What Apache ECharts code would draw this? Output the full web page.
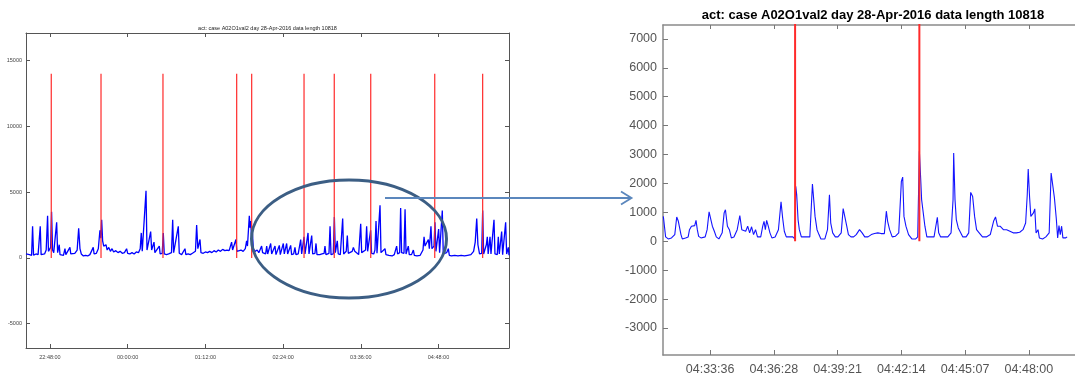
<!DOCTYPE html>
<html>
<head>
<meta charset="utf-8">
<script src="https://cdn.jsdelivr.net/npm/echarts@6/dist/echarts.min.js"></script>
<style>
  html, body { margin: 0; padding: 0; background: #fff; }
  #main { width: 1075px; height: 376px; }
</style>
</head>
<body>
<div id="main"></div>
<script>
// overview: minutes since 22:00 on the evening before, activity count
var overviewPoints = [
  [25.8,300],[27,150],[29,250],[31,200],[31.9,2400],[32.8,200],[35,300],[37,250],[38.2,300],[39,2400],[39.8,250],
  [41,400],[43,300],[44.5,600],[45.8,3200],[46.6,500],[47.5,400],[48.6,800],[49.5,3500],[50.4,600],[51.5,400],
  [53.2,500],[54.2,2700],[55.1,400],[56,300],[56.6,1000],[57.3,250],[59,300],[60.5,200],[61.9,700],[62.7,250],
  [64.5,300],[66.5,800],[67.3,300],[69,250],[71,350],[73.2,600],[74.6,2250],[75.8,700],[77,300],[79,150],[81,200],
  [83,150],[85,250],[86.5,300],[88.1,800],[88.9,300],[91,350],[92.8,700],[94.3,2100],[95.1,1500],[95.9,2900],
  [96.8,1300],[97.8,900],[99.9,1000],[101,600],[102.5,800],[104,500],[105.5,700],[107,450],[109,550],[111,400],
  [113,500],[115,350],[117,400],[119,700],[120,350],[122,300],[124,400],[126,300],[128,450],[130,400],[131.6,700],
  [132.6,1900],[133.5,500],[135,600],[137,5100],[137.9,600],[139.5,700],[141.3,2000],[142.2,600],[143.5,500],
  [144.4,1200],[145.2,400],[147,350],[149.3,900],[150.1,300],[152,350],[153,1900],[153.9,300],[156,250],[158,300],
  [160.6,400],[161.7,2900],[162.6,400],[164,300],[166.9,2400],[167.8,350],[170,250],[173.1,700],[173.9,250],
  [176,300],[178,250],[180,350],[182.8,500],[183.9,2500],[185,700],[187,1400],[187.9,400],[190,350],[192,450],
  [194,400],[196,500],[198,400],[200,550],[202,450],[204,600],[206,500],[208,650],[210,550],[212,600],[214,550],
  [216.3,1200],[217.2,600],[219,700],[220.3,1400],[221.2,500],[223,400],[225,600],[227,500],[229,700],[230.2,1300],
  [231,900],[232.7,3200],[233.3,2300],[234,2800],[234.8,1400],[235.5,2000],[236.4,700],[238,500],[240,600],
  [241.5,400],[243,500],[244.1,900],[245,400],[246.5,500],[247.8,300],[248.8,900],[249.7,300],[251,400],
  [252.5,1100],[253.4,300],[255,350],[256.5,900],[257.4,250],[259,300],[260.5,950],[261.4,250],[263,300],
  [264.2,1100],[265.1,300],[266.4,350],[267.3,1100],[268.2,300],[270,300],[271,950],[271.9,250],[273.8,300],
  [275,800],[275.9,250],[278,300],[280.3,1400],[281.2,300],[282.4,400],[283.4,1600],[284.3,300],[286,300],
  [287.1,1900],[288,300],[289.5,350],[290.5,1700],[291.4,300],[293.5,350],[294.5,1100],[295.4,250],[298,250],
  [300,300],[302,350],[302.8,900],[303.7,250],[306.5,350],[307.5,2400],[308.4,250],[310.5,300],[311.5,3100],
  [312.4,400],[313.3,350],[314.2,1300],[315.1,300],[317,250],[318.3,300],[319.2,3000],[320.1,300],[322.5,500],
  [323.5,1700],[324.4,350],[326,400],[328,500],[329.1,800],[330.4,500],[332,350],[334,250],[335,400],[335.9,2600],
  [336.8,400],[338,450],[340.4,600],[341.4,2400],[342.3,500],[344,400],[345.1,2100],[346,350],[348,300],
  [349.1,600],[350.1,2800],[351,350],[352.8,400],[353.8,4000],[354.7,400],[356.5,300],[358.4,700],[359.3,250],
  [362,200],[365,150],[367,250],[368.2,400],[369.2,900],[370.1,300],[372,400],[372.9,3800],[373.8,400],[376,350],
  [377,3700],[377.9,300],[379,250],[380,900],[380.9,250],[383,250],[384.7,600],[385.6,200],[388,150],[391,200],
  [393.6,600],[394.6,1600],[395.5,900],[397,800],[398.6,1400],[399.5,700],[401,2400],[401.9,700],[403.8,900],
  [404.7,2700],[405.6,500],[407.1,600],[408.1,2200],[409,400],[410.5,500],[411.5,3600],[412.4,300],[414,250],
  [415.5,400],[417.1,700],[418,200],[420,150],[423,200],[426,150],[429,200],[432,150],[435,200],[438,250],
  [440.5,500],[442,1200],[443.4,3000],[444.5,1000],[446,300],[448,350],[448.9,3600],[449.8,300],[451.5,300],
  [452.3,1000],[453.2,1600],[454,300],[454.9,400],[455.7,1600],[456.6,300],[458.4,250],[459.4,2900],[460.3,300],
  [462.4,250],[463.4,1600],[464.3,300],[465.6,300],[466.5,2000],[467.4,250],[469.2,300],[470.2,2700],[471.1,300],
  [472.7,800],[473.3,200]
];
var overviewEvents = [49.2, 95.3, 152.7, 221.0, 234.9, 283.4, 311.4, 345.2, 404.5, 448.9];
var overviewTicksX = [48, 120, 192, 264, 336, 408];
var overviewTicksY = [-5000, 0, 5000, 10000, 15000];

// zoom: seconds since 04:00:00
var zoomPoints = [
  [1889.3,860],[1891.9,800],[1895.5,150],[1902.6,80],[1911.4,115],[1920.3,230],[1925.6,840],[1930.0,690],
  [1933.6,650],[1937.1,230],[1940.7,80],[1949.5,115],[1956.6,150],[1960.2,400],[1965.5,520],[1970.8,460],
  [1974.3,540],[1977.9,720],[1981.4,400],[1985.0,170],[1991.2,115],[2002.7,150],[2008.0,400],[2013.3,1020],
  [2017.8,1070],[2022.2,520],[2027.5,345],[2032.8,150],[2039.9,80],[2048.8,290],[2054.1,980],[2057.6,1090],
  [2063.0,520],[2068.3,400],[2073.6,115],[2080.7,150],[2089.5,400],[2096.6,890],[2101.9,400],[2107.3,460],
  [2112.6,345],[2117.9,520],[2123.2,290],[2128.5,500],[2133.8,230],[2139.2,400],[2144.5,150],[2153.3,150],
  [2158.7,520],[2162.2,690],[2165.8,400],[2169.3,720],[2173.7,520],[2178.2,290],[2183.5,115],[2192.3,150],
  [2201.2,400],[2208.3,1360],[2212.7,800],[2217.2,345],[2222.5,150],[2231.3,150],[2240.2,150],[2245.5,80],
  [2248.2,1900],[2250.8,1610],[2254.4,750],[2257.9,400],[2263.3,150],[2272.1,150],[2279.2,150],[2286.3,150],
  [2293.4,1980],[2296.9,1440],[2300.5,860],[2305.8,400],[2311.1,230],[2316.4,80],[2327.1,80],[2334.2,400],
  [2339.5,1610],[2343.0,630],[2348.3,290],[2355.4,150],[2362.5,150],[2371.4,290],[2376.7,1130],[2382.0,1150],
  [2386.4,520],[2390.9,230],[2397.9,150],[2405.0,150],[2412.1,230],[2421.0,400],[2428.1,290],[2435.2,150],
  [2444.0,150],[2452.9,230],[2461.7,265],[2470.6,290],[2479.5,265],[2488.3,265],[2493.7,1040],[2497.2,690],
  [2502.5,400],[2509.6,150],[2518.5,175],[2527.3,290],[2534.4,2070],[2538.0,2220],[2541.5,860],[2546.8,520],
  [2553.9,230],[2562.8,80],[2573.4,80],[2578.7,150],[2583.2,3110],[2586.7,2190],[2589.3,1440],[2593.8,1380],
  [2598.2,520],[2603.5,150],[2612.4,150],[2623.0,150],[2631.9,830],[2635.5,290],[2640.8,150],[2651.4,150],
  [2660.3,150],[2669.1,290],[2674.5,1440],[2676.2,3050],[2679.8,1440],[2683.3,750],[2688.6,460],[2693.9,400],
  [2701.0,150],[2709.9,150],[2717.0,290],[2722.3,1690],[2727.6,1550],[2732.9,860],[2738.2,400],[2745.3,290],
  [2754.2,150],[2764.8,150],[2775.4,230],[2784.3,690],[2789.6,840],[2794.9,520],[2802.0,520],[2810.9,400],
  [2819.7,400],[2828.6,345],[2837.4,290],[2846.3,290],[2855.2,310],[2864.1,400],[2871.2,630],[2875.6,1610],
  [2878.2,2500],[2881.8,1550],[2885.3,860],[2888.9,860],[2892.4,980],[2896.0,1120],[2899.5,290],[2904.8,400],
  [2908.4,115],[2917.2,80],[2926.1,150],[2935.0,290],[2940.3,2360],[2945.6,2360],[2949.2,1500],[2954.5,750],
  [2958.0,115],[2961.6,540],[2965.1,230],[2968.7,520],[2972.2,115],[2979.3,115],[2983.7,150]
];
var zoomEvents = [2246.4, 2583.2];
var zoomTicksX = [2016, 2188.8, 2361.6, 2534.4, 2707.2, 2880];
var zoomTicksY = [-3000, -2000, -1000, 0, 1000, 2000, 3000, 4000, 5000, 6000, 7000];
var eventHeight = 14000;
var titleText = 'act: case A02O1val2 day 28-Apr-2016 data length 10818';

function pad(n) { return (n < 10 ? '0' : '') + n; }
function fmtMinutes(m) {   // minutes after 22:00
    var total = Math.round(m * 60);
    var h = (22 + Math.floor(total / 3600)) % 24;
    return pad(h) + ':' + pad(Math.floor(total % 3600 / 60)) + ':' + pad(total % 60);
}
function fmtSeconds(s) {   // seconds after 04:00
    var total = Math.floor(s);
    return pad(4 + Math.floor(total / 3600)) + ':' + pad(Math.floor(total % 3600 / 60)) + ':' + pad(total % 60);
}

var font = 'Liberation Sans, Arial, sans-serif';

function eventSeries(times, xi, yi, width) {
    return times.map(function (t) {
        return {
            type: 'line', xAxisIndex: xi, yAxisIndex: yi, symbol: 'none', silent: true,
            lineStyle: { color: '#ff2a2a', width: width },
            data: [[t, 0], [t, eventHeight]], z: 3
        };
    });
}

var myChart = echarts.init(document.getElementById('main'), null, { renderer: 'canvas' });

var series = [
    {
        type: 'line', xAxisIndex: 0, yAxisIndex: 0, symbol: 'none', silent: true,
        lineStyle: { color: '#0000ff', width: 1.3 },
        data: overviewPoints, z: 2
    },
    {
        type: 'line', xAxisIndex: 2, yAxisIndex: 2, symbol: 'none', silent: true,
        lineStyle: { color: '#1414ff', width: 1.1 },
        data: zoomPoints, z: 2
    }
].concat(eventSeries(overviewEvents, 0, 0, 1.2), eventSeries(zoomEvents, 2, 2, 2));

myChart.setOption({
    animation: false,
    backgroundColor: '#fff',
    grid: [
        { left: 26, top: 33, width: 483, height: 315 },
        { left: 663, top: 25, width: 420, height: 331 }
    ],
    xAxis: [
        {   // overview bottom
            type: 'value', gridIndex: 0, min: 25.8, max: 473.3, position: 'bottom',
            axisLine: { onZero: false, lineStyle: { color: '#555', width: 1 } },
            axisTick: { inside: true, length: 4, customValues: overviewTicksX, lineStyle: { color: '#555' } },
            axisLabel: { customValues: overviewTicksX, formatter: fmtMinutes, fontSize: 5.5, color: '#444', fontFamily: font, margin: 6 },
            splitLine: { show: false }
        },
        {   // overview top (box)
            type: 'value', gridIndex: 0, min: 25.8, max: 473.3, position: 'top',
            axisLine: { onZero: false, lineStyle: { color: '#555', width: 1 } },
            axisTick: { inside: true, length: 4, customValues: overviewTicksX, lineStyle: { color: '#555' } },
            axisLabel: { show: false }, splitLine: { show: false }
        },
        {   // zoom bottom
            type: 'value', gridIndex: 1, min: 1888.4, max: 3005, position: 'bottom',
            axisLine: { onZero: false, lineStyle: { color: '#8a8a8a', width: 1.5 } },
            axisTick: { inside: true, length: 5, customValues: zoomTicksX, lineStyle: { color: '#777' } },
            axisLabel: { customValues: zoomTicksX, formatter: fmtSeconds, fontSize: 12.5, color: '#555', fontFamily: font, margin: 8 },
            splitLine: { show: false }
        },
        {   // zoom top (box)
            type: 'value', gridIndex: 1, min: 1888.4, max: 3005, position: 'top',
            axisLine: { onZero: false, lineStyle: { color: '#8a8a8a', width: 1.5 } },
            axisTick: { inside: true, length: 4, customValues: zoomTicksX, lineStyle: { color: '#777' } },
            axisLabel: { show: false }, splitLine: { show: false }
        }
    ],
    yAxis: [
        {
            type: 'value', gridIndex: 0, min: -6850, max: 17100, position: 'left',
            axisLine: { show: true, onZero: false, lineStyle: { color: '#555', width: 1 } },
            axisTick: { show: true, inside: true, length: 4, customValues: overviewTicksY, lineStyle: { color: '#555' } },
            axisLabel: { customValues: overviewTicksY, formatter: function (v) { return String(v); }, fontSize: 5.5, color: '#444', fontFamily: font, margin: 4 },
            splitLine: { show: false }
        },
        {
            type: 'value', gridIndex: 0, min: -6850, max: 17100, position: 'right',
            axisLine: { show: true, onZero: false, lineStyle: { color: '#555', width: 1 } },
            axisTick: { show: true, inside: true, length: 4, customValues: overviewTicksY, lineStyle: { color: '#555' } },
            axisLabel: { show: false }, splitLine: { show: false }
        },
        {
            type: 'value', gridIndex: 1, min: -3935, max: 7480, position: 'left',
            axisLine: { show: true, onZero: false, lineStyle: { color: '#8a8a8a', width: 1.5 } },
            axisTick: { show: true, inside: true, length: 5, customValues: zoomTicksY, lineStyle: { color: '#777' } },
            axisLabel: { customValues: zoomTicksY, formatter: function (v) { return String(v); }, fontSize: 12.5, color: '#555', fontFamily: font, margin: 6 },
            splitLine: { show: false }
        }
    ],
    series: series,
    graphic: [
        {
            type: 'text', x: 267.5, y: 28, z: 10,
            style: { text: titleText, fill: '#222', font: '5.5px ' + font, textAlign: 'center', textVerticalAlign: 'middle' }
        },
        {
            type: 'text', x: 873, y: 15, z: 10,
            style: { text: titleText, fill: '#000', font: 'bold 13px ' + font, textAlign: 'center', textVerticalAlign: 'middle' }
        },
        {
            type: 'ellipse', z: 20, silent: true,
            shape: { cx: 349, cy: 239, rx: 97.5, ry: 59 },
            style: { fill: null, stroke: '#3c5e84', lineWidth: 3 }
        },
        {
            type: 'line', z: 20, silent: true,
            shape: { x1: 385, y1: 198, x2: 631, y2: 198 },
            style: { stroke: '#5b87bd', lineWidth: 1.8 }
        },
        {
            type: 'polyline', z: 20, silent: true,
            shape: { points: [[621, 191.5], [631.5, 198], [621, 204.5]] },
            style: { fill: null, stroke: '#5b87bd', lineWidth: 1.8 }
        }
    ]
});
</script>
</body>
</html>
